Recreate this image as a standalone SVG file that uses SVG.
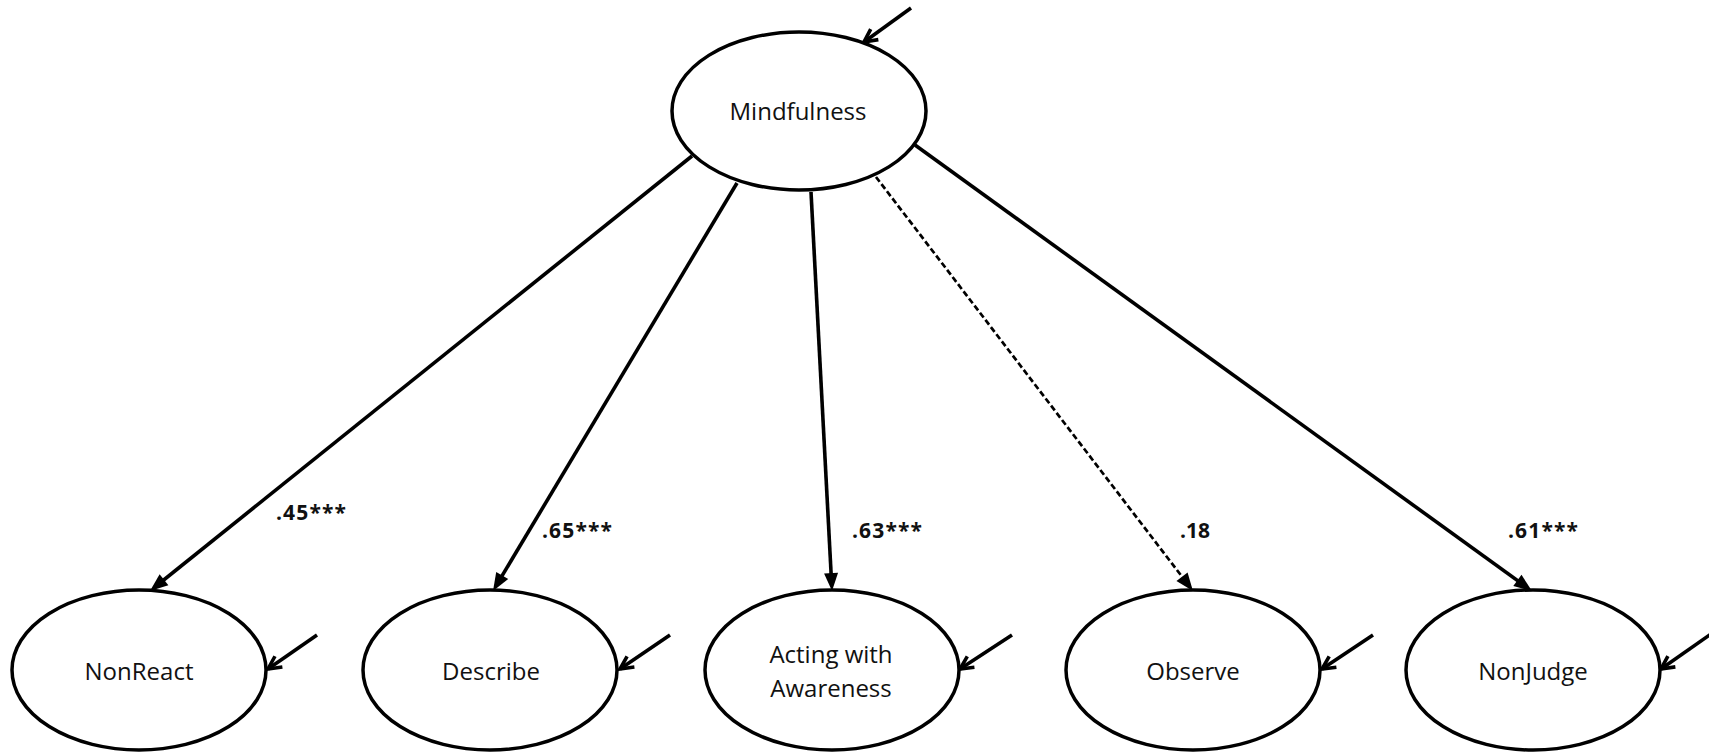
<svg xmlns="http://www.w3.org/2000/svg" width="1709" height="752" viewBox="0 0 1709 752">
  <style>
    .node ellipse { fill: #ffffff; stroke: #000000; stroke-width: 3.5; }
    .node text { font-family: "Open Sans", "Liberation Sans", sans-serif; font-size: 24px; fill: #111111; text-anchor: middle; }
    .path { fill: none; stroke: #000000; stroke-width: 3.6; marker-end: url(#head); }
    .path.ns { stroke-width: 2.7; stroke-dasharray: 6 3; }
    .err { fill: none; stroke: #000000; stroke-width: 3.6; marker-end: url(#openhead); }
    .coef { font-family: "Open Sans", "Liberation Sans", sans-serif; font-size: 21px; font-weight: bold; fill: #111111; }
  </style>
  <defs>
    <marker id="head" markerUnits="userSpaceOnUse" markerWidth="18" markerHeight="14" refX="10" refY="7" orient="auto" overflow="visible">
      <path d="M0,0 L18,7 L0,14 Z" fill="#000000"/>
    </marker>
    <marker id="openhead" markerUnits="userSpaceOnUse" markerWidth="16" markerHeight="14" refX="14" refY="7" orient="auto" overflow="visible">
      <path d="M1,0.5 L14,7 L1,13.5" fill="none" stroke="#000000" stroke-width="3.6"/>
    </marker>
  </defs>

  <rect width="1709" height="752" fill="#ffffff"/>

  <!-- factor loadings and residual arrows -->
  <g id="connectors">
    <line class="path" x1="692" y1="156" x2="156.2" y2="586.0"/>
    <line class="path" x1="737" y1="183" x2="497.1" y2="584.1"/>
    <line class="path" x1="811" y1="192" x2="831.6" y2="583.0"/>
    <line class="path ns" x1="876" y1="177" x2="1188.1" y2="584.6"/>
    <line class="path" x1="915" y1="145" x2="1525.5" y2="586.3"/>

    <line class="err" x1="911" y1="8" x2="864" y2="42"/>
    <line class="err" x1="317" y1="635" x2="268" y2="669"/>
    <line class="err" x1="670" y1="635" x2="620" y2="669"/>
    <line class="err" x1="1012" y1="635" x2="960" y2="669"/>
    <line class="err" x1="1373" y1="635" x2="1322" y2="669"/>
    <line class="err" x1="1711" y1="634" x2="1661" y2="669"/>

    <text class="coef" x="276" y="520" textLength="70">.45***</text>
    <text class="coef" x="542" y="538" textLength="70">.65***</text>
    <text class="coef" x="852" y="538" textLength="70">.63***</text>
    <text class="coef" x="1180" y="538">.18</text>
    <text class="coef" x="1508" y="538" textLength="70">.61***</text>
  </g>

  <g id="mindfulness" class="node">
    <ellipse cx="799" cy="111" rx="127" ry="79"/>
    <text x="798" y="120">Mindfulness</text>
  </g>
  <g id="nonreact" class="node">
    <ellipse cx="139" cy="670" rx="127" ry="80"/>
    <text x="139" y="680">NonReact</text>
  </g>
  <g id="describe" class="node">
    <ellipse cx="490" cy="670" rx="127" ry="80"/>
    <text x="491" y="680">Describe</text>
  </g>
  <g id="acting" class="node">
    <ellipse cx="832" cy="670" rx="127" ry="80"/>
    <text x="831" y="663">Acting with</text>
    <text x="831" y="697">Awareness</text>
  </g>
  <g id="observe" class="node">
    <ellipse cx="1193" cy="670" rx="127" ry="80"/>
    <text x="1193" y="680">Observe</text>
  </g>
  <g id="nonjudge" class="node">
    <ellipse cx="1533" cy="670" rx="127" ry="80"/>
    <text x="1533" y="680">NonJudge</text>
  </g>
</svg>
